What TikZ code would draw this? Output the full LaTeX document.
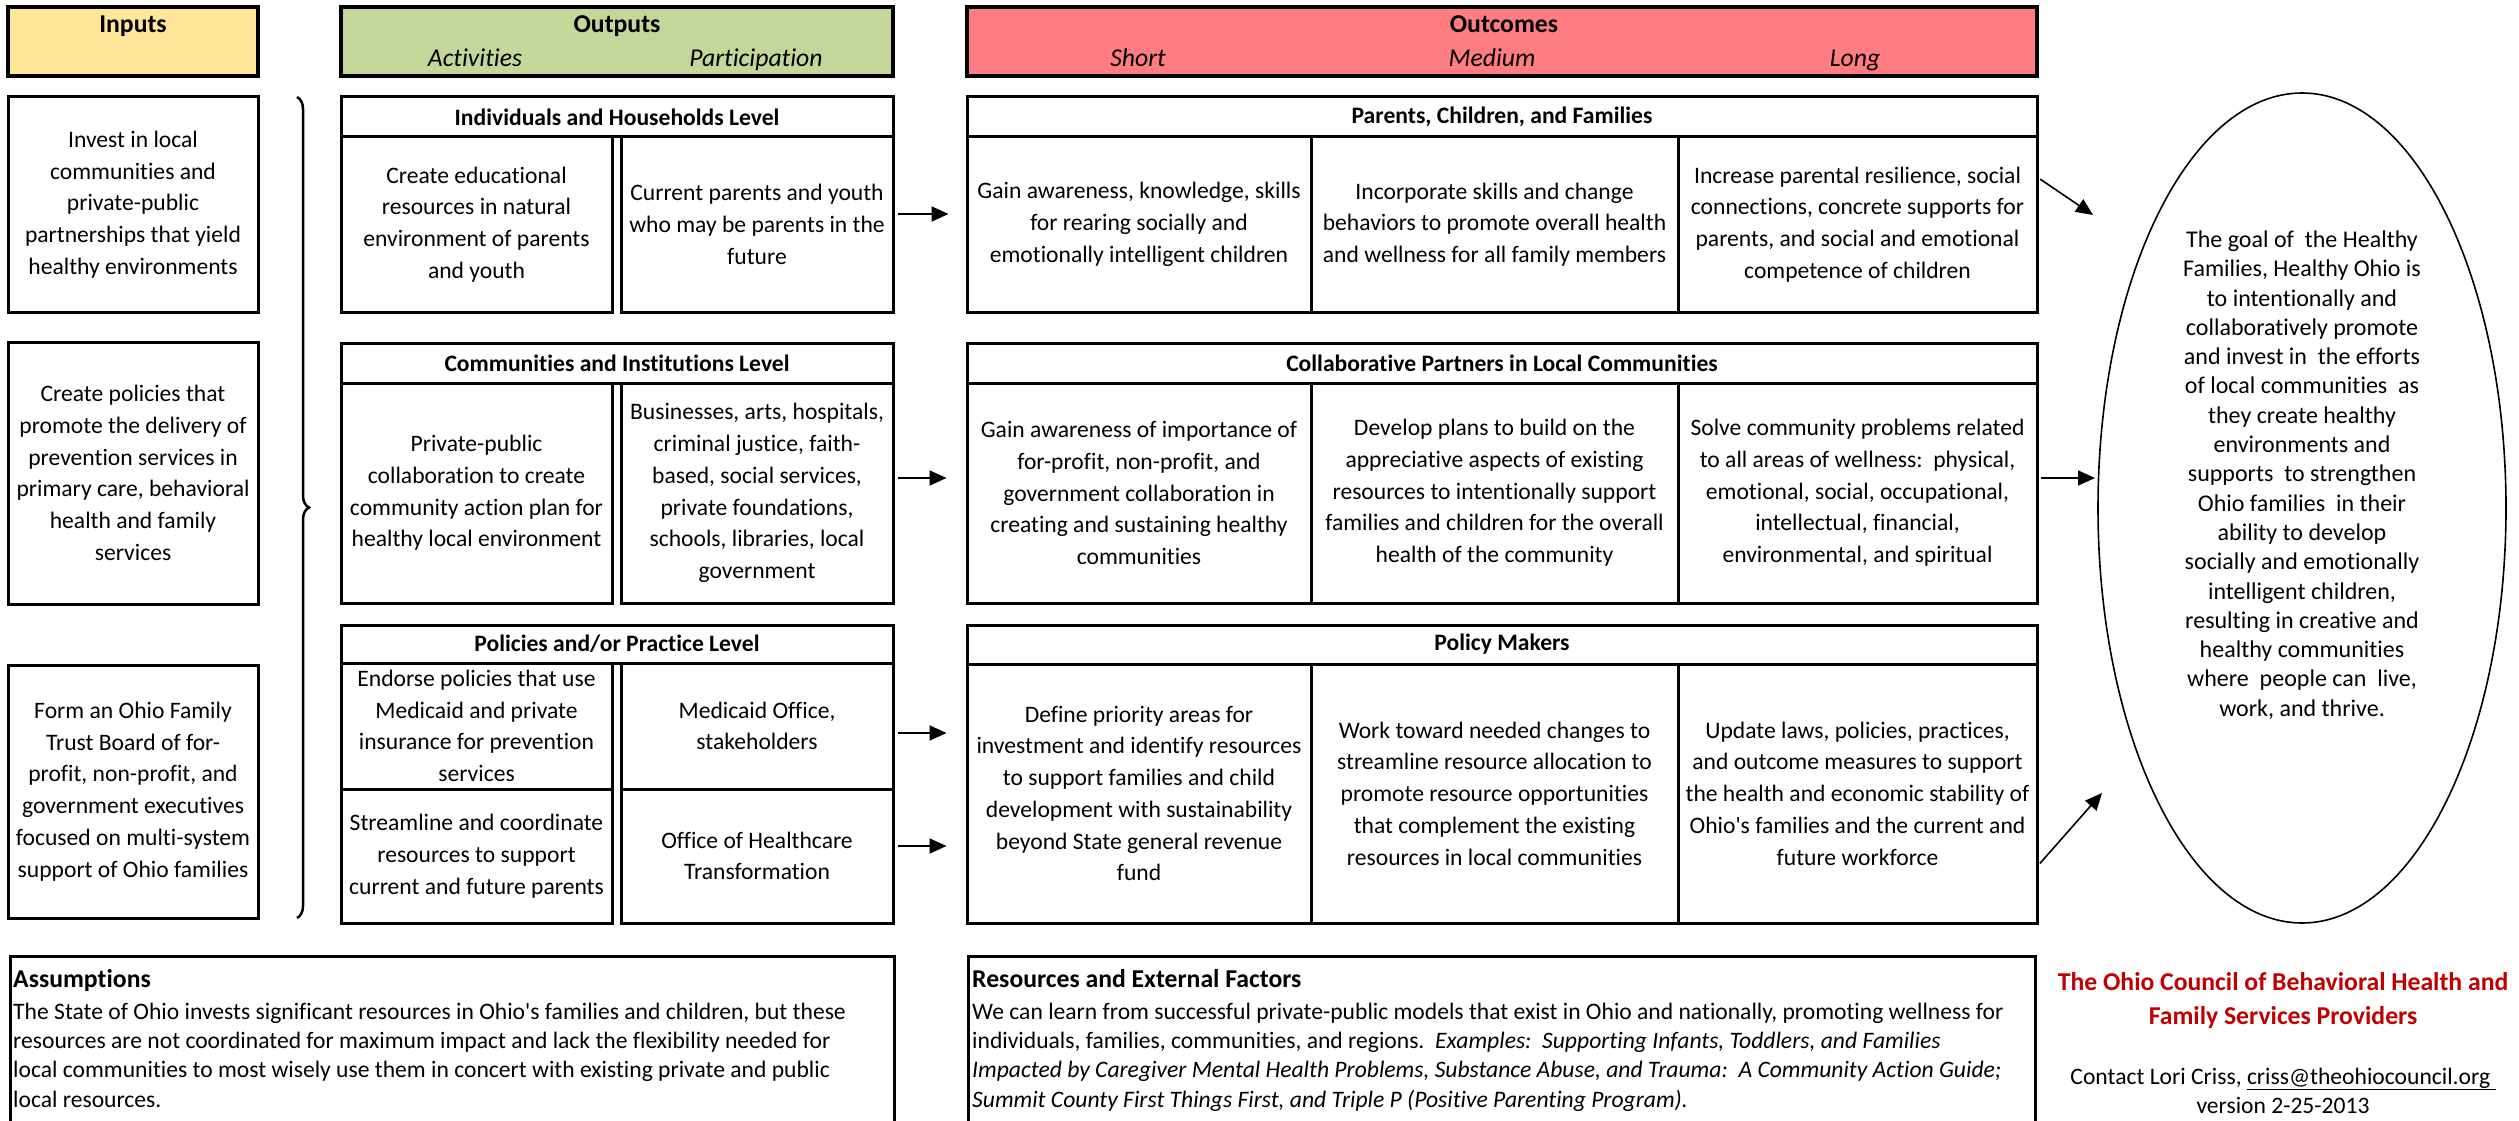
\documentclass[tikz,border=0pt]{standalone}
\usepackage{fontspec}
\setmainfont{Carlito}[Ligatures=NoCommon]
\usetikzlibrary{arrows.meta,shapes.geometric,decorations.pathreplacing}
\definecolor{inyellow}{RGB}{255,230,153}
\definecolor{outgreen}{RGB}{196,215,155}
\definecolor{outcred}{RGB}{255,124,128}
\definecolor{councilred}{RGB}{192,0,0}
\begin{document}
\begin{tikzpicture}[x=1pt,y=-1pt,
  txt/.style={font=\fontsize{23.6}{31.7}\selectfont, align=center, inner sep=0pt},
  box/.style={txt, draw, line width=3pt, rectangle},
  hdr/.style={box, font=\fontsize{23.6}{31.7}\selectfont\bfseries},
  bighdr/.style={draw, line width=3.5pt, rectangle},
  arr/.style={-{Triangle[length=17pt,width=15pt]}, line width=2pt},
  thinarr/.style={-{Triangle[length=17pt,width=15pt]}, line width=1.6pt}]
\useasboundingbox (0,0) rectangle (2519,1121);
\fill[white] (0,0) rectangle (2519,1121);

% column headers
\node[bighdr, fill=inyellow, minimum width=250pt, minimum height=69pt] (inputs) at (133,41.5) {};
\node[bighdr, fill=outgreen, minimum width=552pt, minimum height=69pt] (outputs) at (617,41.5) {};
\node[bighdr, fill=outcred, minimum width=1070pt, minimum height=69pt] (outcomes) at (1502,41.5) {};
\node[txt, anchor=base, font=\fontsize{25.7}{30}\selectfont\bfseries] (inputsT) at (133,33) {Inputs};
\node[txt, anchor=base, font=\fontsize{25.7}{30}\selectfont\bfseries] (outputsT) at (617,33) {Outputs};
\node[txt, anchor=base, font=\fontsize{25.7}{30}\selectfont\itshape] (activT) at (475,67) {Activities};
\node[txt, anchor=base, font=\fontsize{25.7}{30}\selectfont\itshape] (particT) at (756,67) {Participation};
\node[txt, anchor=base, font=\fontsize{25.7}{30}\selectfont\bfseries] (outcomesT) at (1504,33) {Outcomes};
\node[txt, anchor=base, font=\fontsize{25.7}{30}\selectfont\itshape] (shortT) at (1138,67) {Short};
\node[txt, anchor=base, font=\fontsize{25.7}{30}\selectfont\itshape] (mediumT) at (1492,67) {Medium};
\node[txt, anchor=base, font=\fontsize{25.7}{30}\selectfont\itshape] (longT) at (1855,67) {Long};

% inputs
\node[box, minimum width=250pt, minimum height=215pt] (inA) at (133,204.5) {Invest in local\\communities and\\private-public\\partnerships that yield\\healthy environments};
\node[box, minimum width=250pt, minimum height=262pt] (inB) at (133,473) {Create policies that\\promote the delivery of\\prevention services in\\primary care, behavioral\\health and family\\services};
\node[box, minimum width=250pt, minimum height=253pt] (inC) at (133,791.5) {Form an Ohio Family\\Trust Board of for-\\profit, non-profit, and\\government executives\\focused on multi-system\\support of Ohio families};
\draw[line width=2.5pt, decorate, decoration={brace, amplitude=12pt}] (297,97) -- (297,918);

% outputs
\node[hdr, minimum width=552pt, minimum height=40pt] (ihHead) at (617,117) {Individuals and Households Level};
\node[box, minimum width=271pt, minimum height=175pt] (ihAct) at (476.5,224.5) {Create educational\\resources in natural\\environment of parents\\and youth};
\node[box, minimum width=272pt, minimum height=175pt] (ihPart) at (757,224.5) {Current parents and youth\\who may be parents in the\\future};
\node[hdr, minimum width=552pt, minimum height=40pt] (ciHead) at (617,363) {Communities and Institutions Level};
\node[box, minimum width=271pt, minimum height=220pt] (ciAct) at (476.5,493) {Private-public\\collaboration to create\\community action plan for\\healthy local environment};
\node[box, minimum width=272pt, minimum height=220pt] (ciPart) at (757,493) {Businesses, arts, hospitals,\\criminal justice, faith-\\based, social services,\\private foundations,\\schools, libraries, local\\government};
\node[hdr, minimum width=552pt, minimum height=38pt] (ppHead) at (617,644) {Policies and/or Practice Level};
\node[box, minimum width=271pt, minimum height=126pt] (ppActA) at (476.5,726) {Endorse policies that use\\Medicaid and private\\insurance for prevention\\services};
\node[box, minimum width=272pt, minimum height=126pt] (ppPartA) at (757,726) {Medicaid Office,\\stakeholders};
\node[box, minimum width=271pt, minimum height=134pt] (ppActB) at (476.5,856) {Streamline and coordinate\\resources to support\\current and future parents};
\node[box, minimum width=272pt, minimum height=134pt] (ppPartB) at (757,856) {Office of Healthcare\\Transformation};

% outcomes
\node[hdr, minimum width=1070pt, minimum height=40pt] (pcfHead) at (1502,117) {Parents, Children, and Families};
\node[box, minimum width=344pt, minimum height=175pt] (pcfShort) at (1139,224.5) {Gain awareness, knowledge, skills\\for rearing socially and\\emotionally intelligent children};
\node[box, minimum width=367pt, minimum height=175pt] (pcfMed) at (1494.5,224.5) {Incorporate skills and change\\behaviors to promote overall health\\and wellness for all family members};
\node[box, minimum width=359pt, minimum height=175pt] (pcfLong) at (1857.5,224.5) {Increase parental resilience, social\\connections, concrete supports for\\parents, and social and emotional\\competence of children};
\node[hdr, minimum width=1070pt, minimum height=40pt] (cpHead) at (1502,363) {Collaborative Partners in Local Communities};
\node[box, minimum width=344pt, minimum height=220pt] (cpShort) at (1139,493) {Gain awareness of importance of\\for-profit, non-profit, and\\government collaboration in\\creating and sustaining healthy\\communities};
\node[box, minimum width=367pt, minimum height=220pt] (cpMed) at (1494.5,493) {Develop plans to build on the\\appreciative aspects of existing\\resources to intentionally support\\families and children for the overall\\health of the community};
\node[box, minimum width=359pt, minimum height=220pt] (cpLong) at (1857.5,493) {Solve community problems related\\to all areas of wellness:\ \ physical,\\emotional, social, occupational,\\intellectual, financial,\\environmental, and spiritual};
\node[hdr, minimum width=1070pt, minimum height=39pt] (pmHead) at (1502,644.5) {Policy Makers};
\node[box, minimum width=344pt, minimum height=259pt] (pmShort) at (1139,793.5) {Define priority areas for\\investment and identify resources\\to support families and child\\development with sustainability\\beyond State general revenue\\fund};
\node[box, minimum width=367pt, minimum height=259pt] (pmMed) at (1494.5,793.5) {Work toward needed changes to\\streamline resource allocation to\\promote resource opportunities\\that complement the existing\\resources in local communities};
\node[box, minimum width=359pt, minimum height=259pt] (pmLong) at (1857.5,793.5) {Update laws, policies, practices,\\and outcome measures to support\\the health and economic stability of\\Ohio\textquotesingle s families and the current and\\future workforce};

% goal
\node[ellipse, draw, line width=1.6pt, minimum width=408pt, minimum height=830pt] (goal) at (2302,508) {};
\node[txt, font=\fontsize{24}{29.3}\selectfont] (goalT) at (2302,475) {The goal of\ \ the Healthy\\Families, Healthy Ohio is\\to intentionally and\\collaboratively promote\\and invest in\ \ the efforts\\of local communities\ \ as\\they create healthy\\environments and\\supports\ \ to strengthen\\Ohio families\ \ in their\\ability to develop\\socially and emotionally\\intelligent children,\\resulting in creative and\\healthy communities\\where\ \ people can\ \ live,\\work, and thrive.};
\coordinate (g1) at (2093,215);
\coordinate (g2) at (2095,478);
\coordinate (g3) at (2102,793);

% connectors
\draw[arr, shorten <=3pt, shorten >=17pt] ([yshift=10.5pt]ihPart.east) -- ([yshift=10.5pt]ihPart.east -| pcfShort.west);
\draw[arr, shorten <=3pt, shorten >=19pt] ([yshift=15pt]ciPart.east) -- ([yshift=15pt]ciPart.east -| cpShort.west);
\draw[arr, shorten <=3pt, shorten >=19pt] ([yshift=-7pt]ppPartA.east) -- ([yshift=-7pt]ppPartA.east -| pmShort.west);
\draw[arr, shorten <=3pt, shorten >=19pt] ([yshift=10pt]ppPartB.east) -- ([yshift=10pt]ppPartB.east -| pmShort.west);
\draw[thinarr, shorten <=2pt] ([yshift=46.5pt]pcfLong.east) -- (g1);
\draw[thinarr, shorten <=2pt] ([yshift=15pt]cpLong.east) -- (g2);
\draw[thinarr, shorten <=2pt] ([yshift=-71.5pt]pmLong.east) -- (g3);

% bottom boxes
\draw[line width=3pt] (10,1140) |- (894,956) -- (894,1140);
\draw[line width=3pt] (968,1140) |- (2035,956) -- (2035,1140);
\node[txt, anchor=base west, font=\fontsize{25.7}{30}\selectfont\bfseries] (asmT) at (13,987) {Assumptions};
\node[txt, anchor=base west, align=left, font=\fontsize{23.6}{29.3}\selectfont] (asmB) at (13,1107) {The State of Ohio invests significant resources in Ohio\textquotesingle s families and children, but these\\resources are not coordinated for maximum impact and lack the flexibility needed for\\local communities to most wisely use them in concert with existing private and public\\local resources.};
\node[txt, anchor=base west, font=\fontsize{25.7}{30}\selectfont\bfseries] (resT) at (972,987) {Resources and External Factors};
\node[txt, anchor=base west, align=left, font=\fontsize{23.6}{29.3}\selectfont] (resB) at (972,1107) {We can learn from successful private-public models that exist in Ohio and nationally, promoting wellness for\\individuals, families, communities, and regions.\ \ \textit{Examples:\ \ Supporting Infants, Toddlers, and Families}\\\textit{Impacted by Caregiver Mental Health Problems, Substance Abuse, and Trauma:\ \ A Community Action Guide;}\\\textit{Summit County First Things First, and Triple P (Positive Parenting Program).}};

% council
\node[txt, anchor=base, text=councilred, font=\fontsize{25.7}{34}\selectfont\bfseries] (council) at (2283,1024) {The Ohio Council of Behavioral Health and\\Family Services Providers};
\node[txt, anchor=base, font=\fontsize{23.6}{30}\selectfont] (contact) at (2283,1084) {Contact Lori Criss, \underline{criss@theohiocouncil.org\ }};
\node[txt, anchor=base, font=\fontsize{23.6}{30}\selectfont] (version) at (2283,1113) {version 2-25-2013};
\end{tikzpicture}
\end{document}
